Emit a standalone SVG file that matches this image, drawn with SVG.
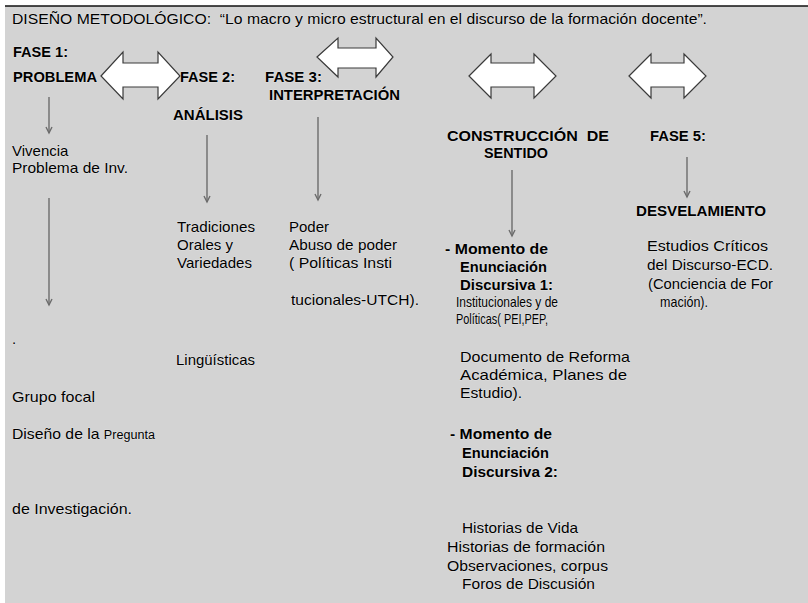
<svg xmlns="http://www.w3.org/2000/svg" width="808" height="603" viewBox="0 0 808 603">
<defs>
<style>
text{font-family:"Liberation Sans",Arial,sans-serif;font-size:15px;fill:#000;stroke:#f2f2f2;stroke-width:1.2px;stroke-opacity:0.45;paint-order:stroke;stroke-linejoin:round}
.b{font-weight:bold}
.s{font-size:15px}
.big{fill:#fff;stroke:#3a3a3a;stroke-width:1.2}
.dn{stroke:#6c6c6c;stroke-width:1.4;fill:none}
</style>
<marker id="ah" markerWidth="10" markerHeight="10" refX="8" refY="5" orient="auto" markerUnits="userSpaceOnUse" viewBox="0 0 10 10">
<path d="M2,2 L8,5 L2,8" fill="none" stroke="#6c6c6c" stroke-width="1.4"/>
</marker>
</defs>
<rect width="808" height="603" fill="#fff"/>
<rect x="5" y="6" width="803" height="597" fill="#d3d3d3"/>
<line x1="5" y1="6" x2="808" y2="6" stroke="#111" stroke-width="1.6"/>

<g id="title"><text x="12" y="24" xml:space="preserve" textLength="695" lengthAdjust="spacingAndGlyphs">DISEÑO METODOLÓGICO:  “Lo macro y micro estructural en el discurso de la formación docente”.</text></g>

<g id="connectors">
<polygon class="big" points="101,76 123,52 123,63 158,63 158,52 180,76 158,99 158,87 123,87 123,99"/>
<polygon class="big" points="317,57 338,38 338,48 376,48 376,38 393,57 376,77 376,68 338,68 338,77"/>
<polygon class="big" points="469,76 491,54 491,63 534,63 534,54 556,76 534,98 534,87 491,87 491,98"/>
<polygon class="big" points="629,76 651,54 651,63 684,63 684,54 706,76 684,98 684,87 651,87 651,98"/>
<line class="dn" x1="49" y1="97" x2="49" y2="133" marker-end="url(#ah)"/>
<line class="dn" x1="49" y1="198" x2="49" y2="305" marker-end="url(#ah)"/>
<line class="dn" x1="207" y1="135" x2="207" y2="202" marker-end="url(#ah)"/>
<line class="dn" x1="318" y1="117" x2="318" y2="200" marker-end="url(#ah)"/>
<line class="dn" x1="512" y1="170" x2="512" y2="236" marker-end="url(#ah)"/>
<line class="dn" x1="687" y1="157" x2="687" y2="197" marker-end="url(#ah)"/>
</g>

<g id="fase1">
<text class="b" x="13" y="57" textLength="55" lengthAdjust="spacingAndGlyphs">FASE 1:</text>
<text class="b" x="13" y="82" textLength="84" lengthAdjust="spacingAndGlyphs">PROBLEMA</text>
<text x="12" y="156">Vivencia</text>
<text x="12" y="173" textLength="116" lengthAdjust="spacingAndGlyphs">Problema de Inv.</text>
<text x="12" y="344">.</text>
<text x="12" y="402" textLength="83" lengthAdjust="spacingAndGlyphs">Grupo focal</text>
<text x="12" y="439" textLength="143" lengthAdjust="spacingAndGlyphs">Diseño de la <tspan style="font-size:12px">Pregunta</tspan></text>
<text x="12" y="514" textLength="120" lengthAdjust="spacingAndGlyphs">de Investigación.</text>
</g>

<g id="fase2">
<text class="b" x="180" y="82" textLength="55" lengthAdjust="spacingAndGlyphs">FASE 2:</text>
<text class="b" x="173" y="120" textLength="70" lengthAdjust="spacingAndGlyphs">ANÁLISIS</text>
<text x="177" y="232" textLength="78" lengthAdjust="spacingAndGlyphs">Tradiciones</text>
<text x="177" y="250" textLength="56" lengthAdjust="spacingAndGlyphs">Orales y</text>
<text x="177" y="268" textLength="75" lengthAdjust="spacingAndGlyphs">Variedades</text>
<text x="176" y="365" textLength="79" lengthAdjust="spacingAndGlyphs">Lingüísticas</text>
</g>

<g id="fase3">
<text class="b" x="265" y="82" textLength="57" lengthAdjust="spacingAndGlyphs">FASE 3:</text>
<text class="b" x="269" y="100" textLength="131" lengthAdjust="spacingAndGlyphs">INTERPRETACIÓN</text>
<text x="289" y="232">Poder</text>
<text x="289" y="250" textLength="108" lengthAdjust="spacingAndGlyphs">Abuso de poder</text>
<text x="289" y="268" textLength="103" lengthAdjust="spacingAndGlyphs">( Políticas Insti</text>
<text x="291" y="305" textLength="128" lengthAdjust="spacingAndGlyphs">tucionales-UTCH).</text>
</g>

<g id="fase4">
<text class="b" x="447" y="141" xml:space="preserve" textLength="162" lengthAdjust="spacingAndGlyphs">CONSTRUCCIÓN  DE</text>
<text class="b" x="484" y="158" textLength="64" lengthAdjust="spacingAndGlyphs">SENTIDO</text>
<text class="b" x="445" y="254" textLength="103" lengthAdjust="spacingAndGlyphs">- Momento de</text>
<text class="b" x="460" y="272" textLength="87" lengthAdjust="spacingAndGlyphs">Enunciación</text>
<text class="b" x="460" y="290" textLength="93" lengthAdjust="spacingAndGlyphs">Discursiva 1:</text>
<text class="s" x="456" y="307" textLength="102" lengthAdjust="spacingAndGlyphs">Institucionales y de</text>
<text class="s" x="456" y="324" textLength="92" lengthAdjust="spacingAndGlyphs">Políticas( PEI,PEP,</text>
<text x="460" y="362" textLength="170" lengthAdjust="spacingAndGlyphs">Documento de Reforma</text>
<text x="460" y="380" textLength="167" lengthAdjust="spacingAndGlyphs">Académica, Planes de</text>
<text x="460" y="398" textLength="62" lengthAdjust="spacingAndGlyphs">Estudio).</text>
<text class="b" x="450" y="439" textLength="102" lengthAdjust="spacingAndGlyphs">- Momento de</text>
<text class="b" x="462" y="458" textLength="87" lengthAdjust="spacingAndGlyphs">Enunciación</text>
<text class="b" x="462" y="477" textLength="96" lengthAdjust="spacingAndGlyphs">Discursiva 2:</text>
<text x="462" y="533" textLength="116" lengthAdjust="spacingAndGlyphs">Historias de Vida</text>
<text x="447" y="552" textLength="158" lengthAdjust="spacingAndGlyphs">Historias de formación</text>
<text x="447" y="571" textLength="161" lengthAdjust="spacingAndGlyphs">Observaciones, corpus</text>
<text x="462" y="589" textLength="133" lengthAdjust="spacingAndGlyphs">Foros de Discusión</text>
</g>

<g id="fase5">
<text class="b" x="650" y="141" textLength="56" lengthAdjust="spacingAndGlyphs">FASE 5:</text>
<text class="b" x="636" y="216" textLength="130" lengthAdjust="spacingAndGlyphs">DESVELAMIENTO</text>
<text x="647" y="251" textLength="121" lengthAdjust="spacingAndGlyphs">Estudios Críticos</text>
<text x="647" y="270" textLength="126" lengthAdjust="spacingAndGlyphs">del Discurso-ECD.</text>
<text x="648" y="289" textLength="125" lengthAdjust="spacingAndGlyphs">(Conciencia de For</text>
<text x="660" y="307" textLength="48" lengthAdjust="spacingAndGlyphs">mación).</text>
</g>
</svg>
